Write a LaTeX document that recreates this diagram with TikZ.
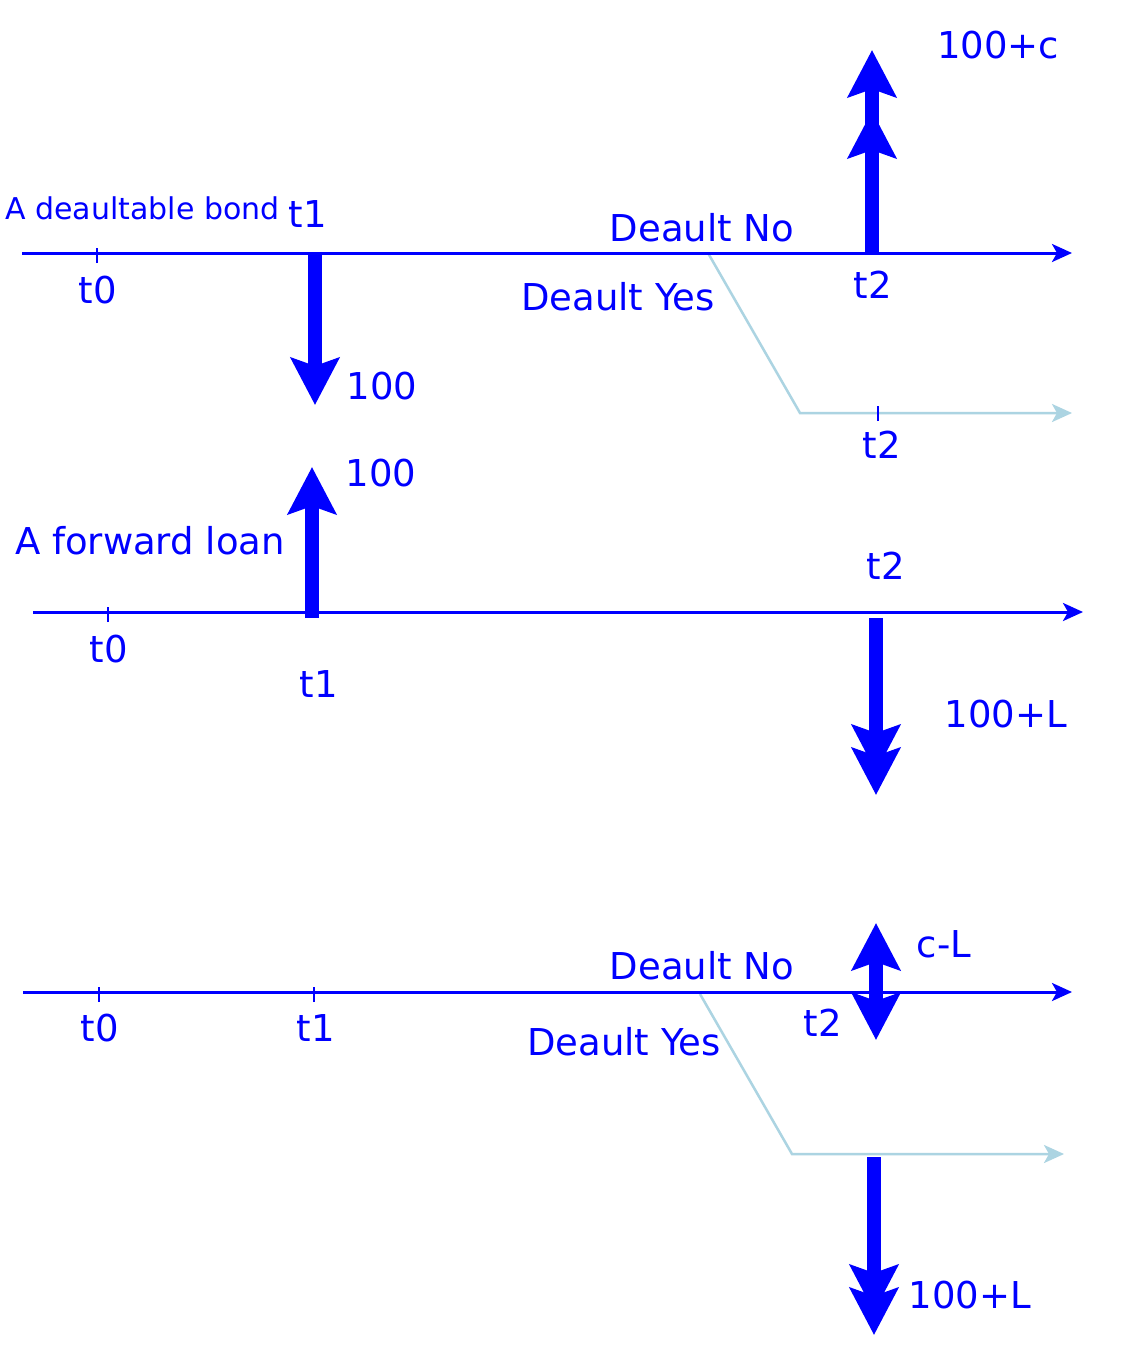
\documentclass[tikz,border=0pt]{standalone}
\usepackage{fontspec}
\setmainfont{DejaVu Sans}
\usetikzlibrary{arrows.meta}
\definecolor{tb}{RGB}{0,0,255}
\definecolor{lb}{RGB}{172,212,226}
\begin{document}
\begin{tikzpicture}[x=1pt,y=-1pt,
  timeline/.style={draw=tb, line width=3pt, -{Stealth[length=20pt,width=18pt,inset=5pt]}},
  branch/.style={draw=lb, line width=2.5pt, -{Stealth[length=20pt,width=18pt,inset=5pt]}},
  tick/.style={draw=tb, line width=2pt},
  flow/.style={draw=tb, line width=14pt, -{Stealth[length=47pt,width=48pt,inset=8pt]}},
  flowtwo/.style={draw=tb, line width=14pt, -{Stealth[length=47pt,width=48pt,inset=8pt,sep=#1]Stealth[length=47pt,width=48pt,inset=8pt]}},
  flowboth/.style={draw=tb, line width=14pt, {Stealth[length=47pt,width=48pt,inset=8pt]}-{Stealth[length=47pt,width=48pt,inset=8pt]}},
  lbl/.style={text=tb, inner sep=0pt, font=\fontsize{37}{40}\selectfont},
  small/.style={text=tb, inner sep=0pt, font=\fontsize{30}{34}\selectfont}]
\useasboundingbox (0,0) rectangle (1126,1354);
\fill[white] (0,0) rectangle (1126,1354);

% ---------- timeline 1 ----------
\coordinate (a0) at (22,253);
\coordinate (a1) at (1072,253);
\coordinate (at0) at (97,253);
\coordinate (at1) at (315,253);
\coordinate (at1e) at (315,405);
\coordinate (at2) at (872,253);
\coordinate (at2e) at (872,50);
\coordinate (ab0) at (708,253);
\coordinate (ab1) at (800,413);
\coordinate (ab2) at (1072,413);
\coordinate (abt) at (878,413);
\draw[branch] (ab0) -- (ab1) -- (ab2);
\draw[tick] ([yshift=-8pt]abt) -- ([yshift=7pt]abt);
\draw[timeline] (a0) -- (a1);
\draw[tick] ([yshift=-10pt]at0) -- ([yshift=5pt]at0);
\draw[flow] (at1) -- (at1e);
\draw[flowtwo=14pt] (at2) -- (at2e);

\node[small, anchor=west] (bond) at (5,208) {A deaultable bond};
\node[lbl] (lt1a) at (308,214) {t1};
\node[lbl] (lt0a) at (98,290) {t0};
\node[lbl] (l100a) at (382,386) {100};
\node[lbl] (noa) at (702,228) {Deault No};
\node[lbl] (yesa) at (618,297) {Deault Yes};
\node[lbl] (lt2a) at (873,285) {t2};
\node[lbl] (lt2b) at (882,445) {t2};
\node[lbl] (l100c) at (998,45) {100+c};

% ---------- timeline 2 ----------
\coordinate (b0) at (33,612);
\coordinate (b1) at (1083,612);
\coordinate (bt0) at (108,612);
\coordinate (bt1) at (312,618);
\coordinate (bt1e) at (312,467);
\coordinate (bt2) at (876,618);
\coordinate (bt2e) at (876,795);
\draw[timeline] (b0) -- (b1);
\draw[tick] ([yshift=-10pt]bt0) -- ([yshift=5pt]bt0);
\draw[flow] (bt1) -- (bt1e);
\draw[flowtwo=-24pt] (bt2) -- (bt2e);

\node[lbl] (l100b) at (381,473) {100};
\node[lbl] (loan) at (150,541) {A forward loan};
\node[lbl] (lt2c) at (886,566) {t2};
\node[lbl] (lt0b) at (109,649) {t0};
\node[lbl] (lt1b) at (319,684) {t1};
\node[lbl] (l100L) at (1006,714) {100+L};

% ---------- timeline 3 ----------
\coordinate (c0) at (23,992);
\coordinate (c1) at (1072,992);
\coordinate (ct0) at (99,992);
\coordinate (ct1) at (314,992);
\coordinate (cu) at (876,923);
\coordinate (cd) at (876,1040);
\coordinate (cb0) at (700,994);
\coordinate (cb1) at (792,1154);
\coordinate (cb2) at (1064,1154);
\coordinate (cf) at (874,1157);
\coordinate (cfe) at (874,1335);
\draw[branch] (cb0) -- (cb1) -- (cb2);
\draw[timeline] (c0) -- (c1);
\draw[tick] ([yshift=-10pt]ct0) -- ([yshift=5pt]ct0);
\draw[tick] ([yshift=-10pt]ct1) -- ([yshift=5pt]ct1);
\draw[flowboth] (cd) -- (cu);
\draw[flowtwo=-24pt] (cf) -- (cfe);

\node[lbl] (noc) at (702,966) {Deault No};
\node[lbl] (lcl) at (944,944) {c-L};
\node[lbl] (lt0c) at (100,1028) {t0};
\node[lbl] (lt1c) at (316,1028) {t1};
\node[lbl] (lt2d) at (823,1023) {t2};
\node[lbl] (yesc) at (624,1042) {Deault Yes};
\node[lbl] (l100L2) at (970,1295) {100+L};
\end{tikzpicture}
\end{document}
